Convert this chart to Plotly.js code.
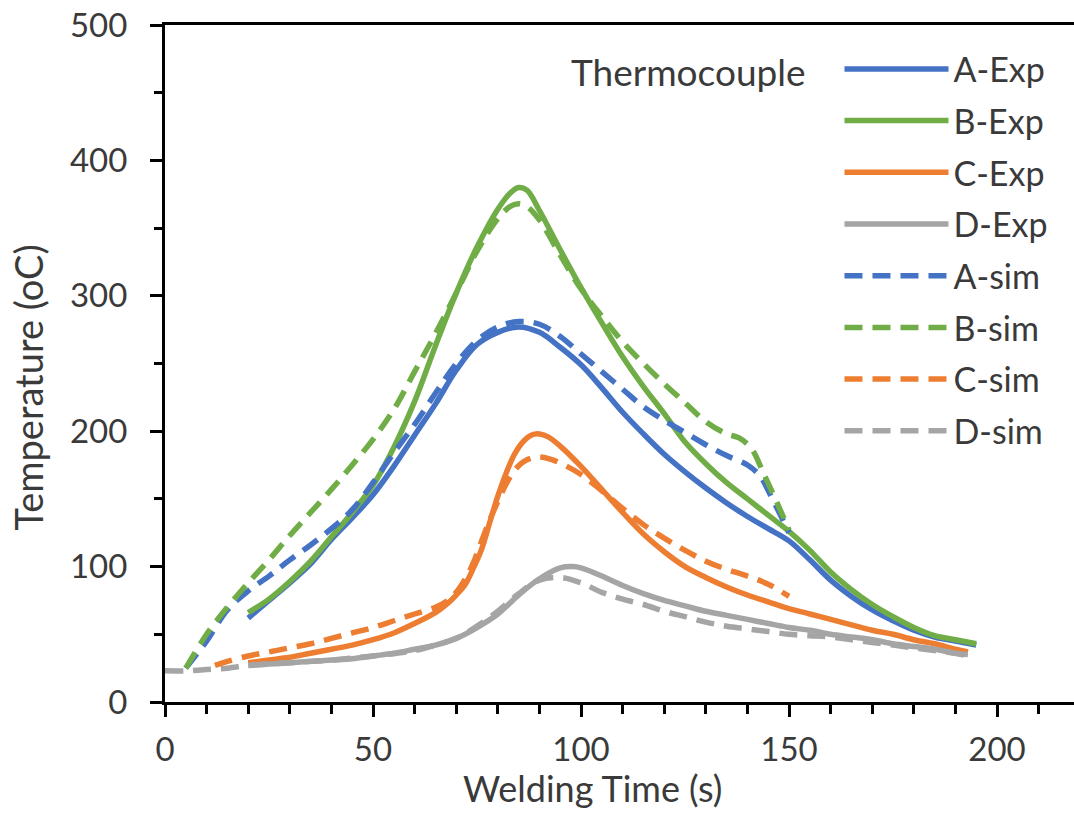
<!DOCTYPE html>
<html>
<head>
<meta charset="utf-8">
<script src="https://cdn.plot.ly/plotly-3.0.1.min.js"></script>
<style>html,body{margin:0;padding:0;background:#fff;}#chart{width:1074px;height:833px;}</style>
</head>
<body>
<div id="chart"></div>
<script>
// ---- data ----
const seriesNames = ["A-Exp", "B-Exp", "C-Exp", "D-Exp", "A-sim", "B-sim", "C-sim", "D-sim"];
const seriesColors = ["#4472C4", "#70AD47", "#ED7D31", "#A5A5A5", "#4472C4", "#70AD47", "#ED7D31", "#A5A5A5"];

const aExpX = [20,25,30,35,40,45,50,55,60,65,70,75,80,85,90,95,100,105,110,115,120,125,130,135,140,145,150,155,160,165,170,175,180,185,190,195];
const aExpY = [62,75,88,102,120,136,153,174,197,220,245,264,273,277,273,262,249,232,214,198,183,170,158,147,137,128,119,105,90,78,68,60,53,48,45,42];

const bExpX = [20,25,30,35,40,45,50,55,60,65,70,75,80,83,85,87,90,95,100,105,110,115,120,125,130,135,140,145,150,155,160,165,170,175,180,185,190,195];
const bExpY = [66,76,89,104,122,140,160,188,222,263,302,336,364,376,380,378,363,334,306,280,255,233,213,192,176,162,150,138,126,112,96,83,72,63,55,49,46,43];

const cExpX = [20,25,30,35,40,45,50,55,60,65,68,70,72,74,76,78,80,82,84,86,88,90,92,95,100,105,110,115,120,125,130,135,140,145,150,155,160,165,170,175,180,185,190,193];
const cExpY = [29,31,33,36,39,42,46,51,58,66,73,79,86,98,112,132,152,169,183,192,197,198,196,189,174,157,140,124,111,100,92,85,79,74,69,65,61,57,53,50,46,43,39,37];

const dExpX = [20,25,30,35,40,45,50,55,60,65,70,75,80,85,90,95,98,100,105,110,115,120,125,130,135,140,145,150,155,160,165,170,175,180,185,190,193];
const dExpY = [27,28,29,30,31,32,34,36,39,42,47,55,65,79,91,99,100,99,93,86,80,75,71,67,64,61,58,55,53,50,48,46,43,41,39,36,35];

const aSimX = [5,10,15,20,25,30,35,40,45,50,55,60,65,70,75,80,85,90,95,100,105,110,115,120,125,130,135,140,143,146,150];
const aSimY = [25,45,68,82,93,105,116,128,142,162,184,205,228,250,267,277,281,279,270,257,244,231,218,208,199,190,182,175,167,150,125];

const bSimX = [5,10,15,20,25,30,35,40,45,50,55,60,65,70,75,80,83,85,87,90,95,100,105,110,115,120,125,130,135,138,141,144,147,150];
const bSimY = [25,50,70,88,105,123,140,157,175,194,216,244,272,302,333,357,366,368,366,356,330,305,285,266,250,235,221,207,198,195,187,168,148,127];

const cSimX = [12,15,20,25,30,35,40,45,50,55,60,65,68,70,72,74,76,78,80,82,84,86,88,90,93,96,100,105,110,115,120,125,130,135,140,145,150];
const cSimY = [27,30,34,37,40,43,47,51,55,60,65,70,75,81,90,102,118,134,148,161,171,177,180,181,179,175,168,156,143,131,121,112,104,98,93,87,78];

const dSimX = [0,5,10,15,20,25,30,40,50,60,65,70,75,80,85,90,95,100,105,110,115,120,125,130,135,140,145,150,155,160,165,170,175,180,185,190,193];
const dSimY = [23,23,24,25,27,28,29,31,34,38,42,47,56,67,80,90,92,88,81,76,72,67,63,59,56,54,52,50,49,48,46,44,42,40,38,36,34];

const xTickVals = [0, 50, 100, 150, 200];
const yTickVals = [0, 100, 200, 300, 400, 500];
const xTitle = "Welding Time (s)";
const yTitle = "Temperature (oC)";
const legendHeading = "Thermocouple";

// ---- build traces ----
const xs = [aExpX, bExpX, cExpX, dExpX, aSimX, bSimX, cSimX, dSimX];
const ys = [aExpY, bExpY, cExpY, dExpY, aSimY, bSimY, cSimY, dSimY];

const FONT = "Lato, 'Open Sans', sans-serif";
const TXT = "#3a3a3a";

const traces = seriesNames.map((name, i) => ({
  type: "scatter",
  mode: "lines",
  name: name,
  x: xs[i],
  y: ys[i],
  legendgroup: "g" + i,
  line: {
    color: seriesColors[i],
    width: 5.5,
    shape: "spline",
    smoothing: 1,
    dash: i >= 4 ? "18px,10px" : "solid"
  },
  hoverinfo: "x+y+name"
}));

const axisCommon = {
  showgrid: false,
  zeroline: false,
  showline: true,
  linecolor: "#000",
  linewidth: 3,
  ticks: "outside",
  tickcolor: "#000",
  tickwidth: 3,
  tickfont: {family: FONT, size: 33, color: TXT}
};

const layout = {
  width: 1074,
  height: 833,
  margin: {l: 165, r: 0, t: 25, b: 131, pad: 0},
  paper_bgcolor: "#fff",
  plot_bgcolor: "#fff",
  showlegend: true,
  xaxis: Object.assign({}, axisCommon, {
    range: [0, 218.5],
    tickmode: "array",
    tickvals: xTickVals,
    ticktext: xTickVals.map(String),
    ticklen: 12,
    mirror: true,
    ticklabelstandoff: 4,
    minor: {dtick: 10, tick0: 0, ticks: "outside", ticklen: 9, tickwidth: 3, tickcolor: "#000", showgrid: false}
  }),
  yaxis: Object.assign({}, axisCommon, {
    range: [0, 500],
    tickmode: "array",
    tickvals: yTickVals,
    ticktext: yTickVals.map(String),
    ticklen: 12,
    ticklabelstandoff: 16,
    minor: {dtick: 50, tick0: 0, ticks: "outside", ticklen: 8, tickwidth: 3, tickcolor: "#000", showgrid: false}
  }),
  legend: {
    x: 0.742,
    y: 0.9774,
    xanchor: "left",
    yanchor: "top",
    bgcolor: "rgba(0,0,0,0)",
    borderwidth: 0,
    font: {family: FONT, size: 34, color: TXT},
    itemwidth: 104,
    traceorder: "grouped",
    tracegroupgap: 4.5
  },
  annotations: [
    {text: legendHeading, xref: "paper", yref: "paper", x: 0.7074, y: 0.9306, xanchor: "right", yanchor: "middle", showarrow: false, font: {family: FONT, size: 37, color: TXT}},
    {text: xTitle, xref: "paper", yref: "paper", x: 0.4708, y: -0.1275, xanchor: "center", yanchor: "middle", showarrow: false, font: {family: FONT, size: 36, color: TXT}},
    {text: yTitle, xref: "paper", yref: "paper", x: -0.1507, y: 0.4645, xanchor: "center", yanchor: "middle", textangle: -90, showarrow: false, font: {family: FONT, size: 38, color: TXT}}
  ]
};

Plotly.newPlot("chart", traces, layout, {displayModeBar: false, staticPlot: true});
</script>
</body>
</html>
